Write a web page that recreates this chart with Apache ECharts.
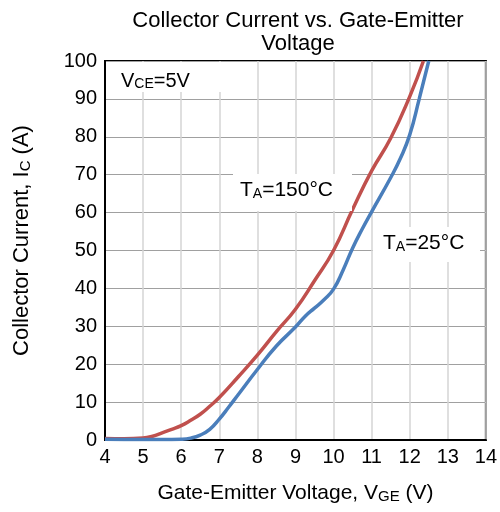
<!DOCTYPE html>
<html>
<head>
<meta charset="utf-8">
<script src="https://cdn.jsdelivr.net/npm/echarts@6/dist/echarts.min.js"></script>
<style>
html,body{margin:0;padding:0;background:#fff;}
#chart{width:500px;height:512px;}
</style>
</head>
<body>
<div id="chart"></div>
<script>
// Data
const red150X = [4, 4.5, 5, 5.25, 5.5, 5.75, 6, 6.25, 6.5, 6.75, 7, 7.5, 8, 8.5, 9, 9.5, 10, 10.5, 11, 11.5, 12, 12.36];
const red150Y = [0.4, 0.3, 0.5, 1.0, 1.9, 2.8, 3.8, 5.2, 6.8, 8.9, 11.2, 16.7, 22.4, 28.6, 34.5, 42.0, 50.0, 60.8, 71.0, 79.6, 90.6, 100];
const blue25X = [4, 5, 5.5, 6, 6.25, 6.5, 6.75, 7, 7.25, 7.5, 8, 8.5, 9, 9.25, 9.5, 9.75, 10, 10.25, 10.5, 10.75, 11, 11.5, 11.75, 12, 12.25, 12.5];
const blue25Y = [0.2, 0.1, 0.1, 0.2, 0.5, 1.3, 2.8, 5.5, 8.7, 12.0, 18.6, 24.8, 29.8, 32.6, 34.8, 37.0, 39.8, 44.8, 50.6, 55.6, 60.2, 69.2, 74.2, 80.5, 90.0, 100];
const xTicks = [4, 5, 6, 7, 8, 9, 10, 11, 12, 13, 14];
const yTicks = [0, 10, 20, 30, 40, 50, 60, 70, 80, 90, 100];
const titleLines = ['Collector Current vs. Gate-Emitter', 'Voltage'];

const FONT = '"Liberation Sans", Arial, sans-serif';
const zip = (xs, ys) => xs.map((x, i) => [x, ys[i]]);

const chart = echarts.init(document.getElementById('chart'), null, {renderer: 'canvas'});

const subRich = {
  sub: {fontSize: 15, fontFamily: FONT, color: '#000', verticalAlign: 'bottom', lineHeight: 14}
};

function label(x, y, w, h, tx, ty, text, size) {
  return {
    type: 'group',
    children: [
      {type: 'rect', shape: {x: x, y: y, width: w, height: h}, style: {fill: '#fff'}, z: 10},
      {type: 'text', x: tx, y: ty, z: 11,
       style: {text: text, fontSize: size, fontFamily: FONT, fill: '#000', textVerticalAlign: 'top',
               rich: {sub: {fontSize: 14, fontFamily: FONT, fill: '#000', verticalAlign: 'bottom', lineHeight: 14}}}}
    ]
  };
}

chart.setOption({
  animation: false,
  grid: {left: 105, right: 13, top: 61, bottom: 72, show: true, borderColor: '#000', borderWidth: 2, backgroundColor: 'transparent'},
  xAxis: {
    type: 'value', min: xTicks[0], max: xTicks[xTicks.length - 1], interval: 1,
    axisLine: {show: true, lineStyle: {color: '#000', width: 2}},
    axisTick: {show: false},
    axisLabel: {fontSize: 20, fontFamily: FONT, color: '#000', margin: 7},
    splitLine: {show: true, lineStyle: {color: '#d4d4d4', width: 1.5}},
    name: 'Gate-Emitter Voltage, V{sub|GE} (V)',
    nameLocation: 'middle', nameGap: 43,
    nameTextStyle: {fontSize: 21, fontFamily: FONT, color: '#000', rich: subRich}
  },
  yAxis: {
    type: 'value', min: yTicks[0], max: yTicks[yTicks.length - 1], interval: 10,
    axisLine: {show: true, lineStyle: {color: '#000', width: 2}},
    axisTick: {show: false},
    axisLabel: {fontSize: 20, fontFamily: FONT, color: '#000', margin: 8},
    splitLine: {show: true, lineStyle: {color: '#a0a0a0', width: 1.2}},
    name: 'Collector Current, I{sub|C} (A)',
    nameLocation: 'middle', nameGap: 72,
    nameTextStyle: {fontSize: 22, fontFamily: FONT, color: '#000', rich: subRich, padding: [0, 0, 0, 20]}
  },
  graphic: [
    {type: 'text', x: 298, y: 9, style: {text: titleLines.join('\n'), fontSize: 22, lineHeight: 23, fontFamily: FONT, fill: '#000', textAlign: 'center', textVerticalAlign: 'top'}},
    label(106, 62, 115, 30, 121, 71, 'V{sub|CE}=5V', 20),
    label(233, 174, 119, 37, 240, 180, 'T{sub|A}=150°C', 21),
    label(373, 227, 107, 35, 383, 233, 'T{sub|A}=25°C', 21)
  ],
  series: [
    {type: 'line', name: 'TA=150°C', data: zip(red150X, red150Y), showSymbol: false, smooth: 0.5,
     lineStyle: {color: '#c0504d', width: 3.5}, itemStyle: {color: '#c0504d'}, z: 3},
    {type: 'line', name: 'TA=25°C', data: zip(blue25X, blue25Y), showSymbol: false, smooth: 0.5,
     lineStyle: {color: '#4a7ebb', width: 3.5}, itemStyle: {color: '#4a7ebb'}, z: 3}
  ]
});
</script>
</body>
</html>
